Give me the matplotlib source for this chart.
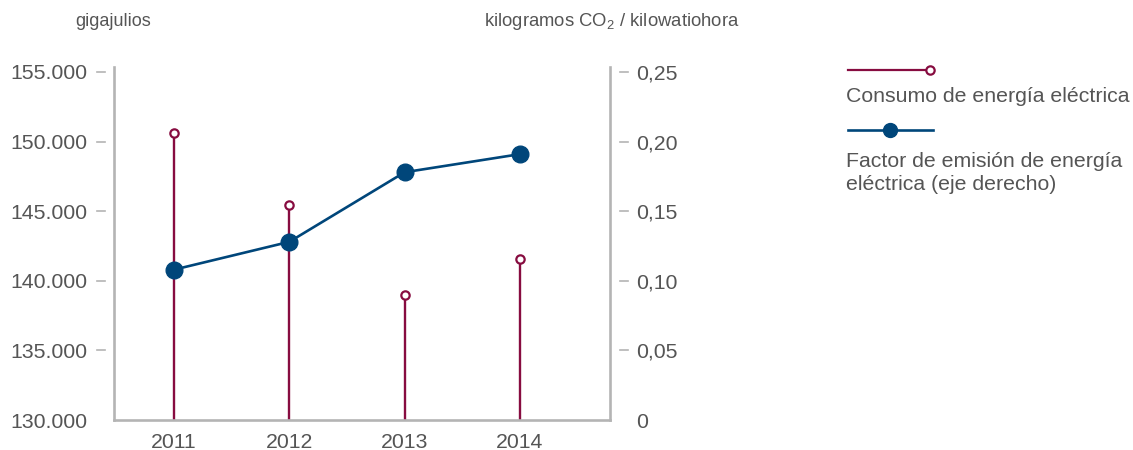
import matplotlib.pyplot as plt
import matplotlib.transforms as mtrans
from matplotlib.lines import Line2D

plt.rcParams['font.family'] = ['Liberation Sans', 'DejaVu Sans']
plt.rcParams['mathtext.fontset'] = 'custom'
plt.rcParams['mathtext.rm'] = 'Liberation Sans'

#______________ DATA ______________#
years = [2011, 2012, 2013, 2014]
consumo_gj = [150600, 145450, 138980, 141570]       # gigajulios
factor_emision = [0.108, 0.128, 0.178, 0.191]       # kg CO2 / kWh

left_ticks = [130000, 135000, 140000, 145000, 150000, 155000]
left_labels = ['130.000', '135.000', '140.000', '145.000', '150.000', '155.000']
right_ticks = [0, 0.05, 0.10, 0.15, 0.20, 0.25]
right_labels = ['0', '0,05', '0,10', '0,15', '0,20', '0,25']

#______________ STYLE ______________#
red = '#870c40'
blue = '#00467a'
grey = '#b4b4b4'
txt = '#555555'
fs = 15.3

fig = plt.figure(figsize=(11.33, 4.5), dpi=100)
W, H = 1133, 450
ax = fig.add_axes([114 / W, 30 / H, (610 - 114) / W, (420 - 67) / H])
ax2 = ax.twinx()

ax.set_xlim(2010.48, 2014.78)
ax.set_ylim(130000, 155000 + 25000 * 5 / 348)
ax2.set_ylim(0, 0.25 + 0.25 * 5 / 348)

# stems (consumo)
for x, v in zip(years, consumo_gj):
    ax.plot([x, x], [130000, v], color=red, lw=1.7, solid_capstyle='butt', zorder=2)
ax.plot(years, consumo_gj, 'o', ms=6, mfc='white', mec=red, mew=1.6, zorder=3, clip_on=False)

# factor de emision (right axis)
ax2.plot(years, factor_emision, '-', color=blue, lw=1.9, marker='o', ms=12,
         mfc=blue, mec=blue, zorder=4)

for a in (ax, ax2):
    for s in a.spines.values():
        s.set_color(grey)
        s.set_linewidth(1.9)
    a.spines['top'].set_visible(False)
ax.spines['right'].set_visible(False)
ax2.spines['left'].set_visible(False)
ax2.spines['bottom'].set_visible(False)
ax.patch.set_alpha(0)

ax.set_xticks(years)
ax.set_xticklabels([str(y) for y in years])
ax.tick_params(axis='x', length=0, pad=9, labelsize=fs, labelcolor=txt)

ax.set_yticks(left_ticks)
ax.set_yticklabels(left_labels)
ax.tick_params(axis='y', length=0, pad=19, labelsize=fs, labelcolor=txt)
ax2.set_yticks(right_ticks)
ax2.set_yticklabels(right_labels)
ax2.tick_params(axis='y', length=0, pad=19, labelsize=fs, labelcolor=txt)

# detached tick marks
tl = mtrans.blended_transform_factory(ax.transAxes, ax.transData)
tr = mtrans.blended_transform_factory(ax2.transAxes, ax2.transData)
aw = 610 - 114
for v in left_ticks[1:]:
    ax.plot([-17 / aw, -9 / aw], [v, v], color=grey, lw=1.2, transform=tl, clip_on=False)
for v in right_ticks[1:]:
    ax2.plot([1 + 10 / aw, 1 + 18 / aw], [v, v], color=grey, lw=1.2, transform=tr, clip_on=False)

# axis titles
fig.text(113 / W, 1 - 22 / H, 'gigajulios', ha='center', va='center', fontsize=13, color=txt)
fig.text(612 / W, 1 - 22 / H, 'kilogramos CO$_2$ / kilowatiohora', ha='center', va='center',
         fontsize=13.3, color=txt)

# legend
fig.add_artist(Line2D([848 / W, 930 / W], [1 - 70 / H, 1 - 70 / H], color=red, lw=1.6))
fig.add_artist(Line2D([930 / W], [1 - 70 / H], marker='o', ms=6, mfc='white', mec=red, mew=1.6))
fig.text(846 / W, 1 - 97 / H, 'Consumo de energía eléctrica', ha='left', va='center',
         fontsize=fs, color=txt)
fig.add_artist(Line2D([848 / W, 933 / W], [1 - 130 / H, 1 - 130 / H], color=blue, lw=1.9))
fig.add_artist(Line2D([890 / W], [1 - 130 / H], marker='o', ms=10, mfc=blue, mec=blue))
fig.text(846 / W, 1 - 173 / H, 'Factor de emisión de energía\neléctrica (eje derecho)',
         ha='left', va='center', fontsize=fs, color=txt, linespacing=1.3)

fig.savefig('out.png', dpi=100)
